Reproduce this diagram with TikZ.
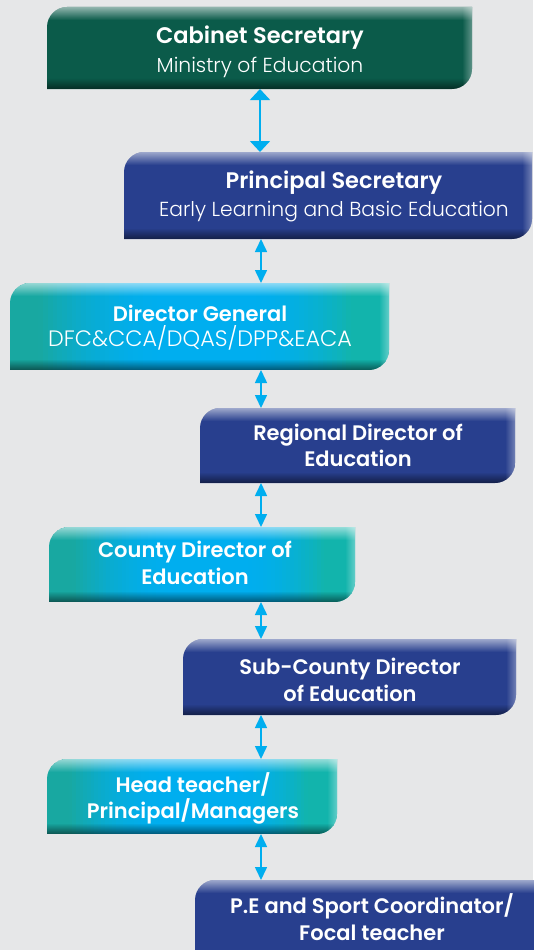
\documentclass[tikz,border=0pt]{standalone}
\usepackage{fontspec}
\setmainfont{Poppins}
\IfFontExistsTF{Poppins Light}{\newfontfamily\lightf{Poppins Light}}{\newfontfamily\lightf{Poppins}}
\IfFontExistsTF{Poppins SemiBold}{\newfontfamily\semif{Poppins SemiBold}}{\newfontfamily\semif{Poppins}[UprightFont=*-Bold]}
\usetikzlibrary{arrows.meta,fadings}
\definecolor{bgc}{HTML}{E6E7E8}
\definecolor{greenB}{HTML}{0B5B4A}
\definecolor{blueB}{HTML}{283F8E}
\definecolor{tealL}{HTML}{18A8A1}
\definecolor{tealM}{HTML}{00AEEF}
\definecolor{tealR}{HTML}{12B4AC}
\definecolor{cyanA}{HTML}{00AEEF}
\pgfdeclarelayer{bgl}
\pgfsetlayers{bgl,main}
\tikzset{
  frame/.style={rectangle, inner sep=0pt, outer sep=0pt},
  tb/.style={text=white, font=\semif\fontsize{21}{24}\selectfont, inner sep=0pt, anchor=base},
  tbl/.style={text=white, font=\semif\fontsize{22.5}{24}\selectfont, inner sep=0pt, anchor=base},
  tr/.style={text=white, font=\lightf\fontsize{20.3}{22}\selectfont, inner sep=0pt, anchor=base},
  arr/.style={draw=cyanA, line width=1.6pt, {Triangle[width=12pt,length=13pt]}-{Triangle[width=12pt,length=13pt]}},
  arrbig/.style={draw=cyanA, line width=1.6pt, {Triangle[width=20pt,length=11pt]}-{Triangle[width=20pt,length=11pt]}}
}
\newcommand\boxpath[4]{(#1,#4) -- (#1,#2+20) .. controls (#1,#2+9) and (#1+9,#2) .. (#1+20,#2) -- (#3,#2) -- (#3,#4-20) .. controls (#3,#4-9) and (#3-9,#4) .. (#3-20,#4) -- cycle}
\newcommand\fillgreen[4]{\fill[greenB] \boxpath{#1}{#2}{#3}{#4};}
\newcommand\fillblue[4]{\fill[blueB] \boxpath{#1}{#2}{#3}{#4};}
\newcommand\fillteal[4]{%
  \begin{scope}
    \clip \boxpath{#1}{#2}{#3}{#4};
    \pgfmathsetmacro\stw{(#3-#1)/80}%
    \foreach \i in {0,...,79}{%
      \pgfmathsetmacro\t{(\i+0.5)/80}%
      \pgfmathsetmacro\ql{max(0,min(1,(0.42-\t)/0.34))}%
      \pgfmathsetmacro\qr{max(0,min(1,(\t-0.62)/0.28))}%
      \pgfmathtruncatemacro\pl{100*\ql*\ql}%
      \pgfmathtruncatemacro\pr{100*\qr*\qr}%
      \pgfmathtruncatemacro\side{\t<0.52}%
      \ifnum\side=1 \def\stripc{tealL!\pl!tealM}\else\def\stripc{tealR!\pr!tealM}\fi
      \pgfmathsetmacro\xa{#1+\stw*\i}%
      \pgfmathsetmacro\xb{#1+\stw*(\i+1.3)}%
      \fill[\stripc] (\xa,#2) rectangle (\xb,#4);
    }
  \end{scope}}
\newcommand\orgbox[6]{%
  \begin{pgfonlayer}{bgl}
    \csname fill#6\endcsname{#2}{#3}{#4}{#5}
    \begin{scope}
      \clip \boxpath{#2}{#3}{#4}{#5};
      \fill[white, fill opacity=0.55, path fading=south] (#2,#3) rectangle (#4,#3+13);
      \fill[black, fill opacity=0.5, path fading=north] (#2,#5-11) rectangle (#4,#5);
      \fill[white, fill opacity=0.35, path fading=west] (#4-10,#3) rectangle (#4,#5);
    \end{scope}
  \end{pgfonlayer}
  \node[frame, minimum width={(#4-#2)*1pt}, minimum height={(#5-#3)*1pt}] (#1) at ({(#2+#4)/2},{(#3+#5)/2}) {};
}
\begin{document}
\begin{tikzpicture}[x=1pt,y=-1pt]
\useasboundingbox (0,0) rectangle (533,950);
\begin{pgfonlayer}{bgl}
  \fill[bgc] (0,0) rectangle (533,950);
\end{pgfonlayer}
\clip (0,0) rectangle (533,950);
\coordinate (ax) at (261,0);
\coordinate (ax1) at (260,0);

\orgbox{b1}{47}{7}{472}{89}{green}
\orgbox{b2}{124}{152}{532}{239}{blue}
\orgbox{b3}{10}{283}{389}{370}{teal}
\orgbox{b4}{200}{408}{515}{483}{blue}
\orgbox{b5}{49}{527}{355}{602}{teal}
\orgbox{b6}{183}{639}{516}{715}{blue}
\orgbox{b7}{47}{759}{337}{834}{teal}
\orgbox{b8}{195}{880}{560}{965}{blue}

\node[tbl] (t1a) at (260,44) {Cabinet Secretary};
\node[tr] (t1b) at (260,72) {Ministry of Education};
\node[tbl] (t2a) at (334,188) {Principal Secretary};
\node[tr] (t2b) at (334,216) {Early Learning and Basic Education};
\node[tb] (t3a) at (200,321) {Director General};
\node[tr, font=\lightf\fontsize{22.3}{24}\selectfont] (t3b) at (200,346) {DFC\&CCA/DQAS/DPP\&EACA};
\node[tb] (t4a) at (358,440) {Regional Director of};
\node[tb] (t4b) at (358,466) {Education};
\node[tb] (t5a) at (195,557) {County Director of};
\node[tb] (t5b) at (195,584) {Education};
\node[tb] (t6a) at (350,674) {Sub-County Director};
\node[tb] (t6b) at (350,701) {of Education};
\node[tb] (t7a) at (193,792) {Head teacher/};
\node[tb] (t7b) at (193,818) {Principal/Managers};
\node[tb] (t8a) at (372,913) {P.E and Sport Coordinator/};
\node[tb] (t8b) at (372,940) {Focal teacher};

\draw[arrbig] (b1.south -| ax1) -- (b2.north -| ax1);
\draw[arr] (b2.south -| ax) -- (b3.north -| ax);
\draw[arr] (b3.south -| ax) -- (b4.north -| ax);
\draw[arr] (b4.south -| ax) -- (b5.north -| ax);
\draw[arr] (b5.south -| ax) -- (b6.north -| ax);
\draw[arr] (b6.south -| ax) -- (b7.north -| ax);
\draw[arr] (b7.south -| ax) -- (b8.north -| ax);
\end{tikzpicture}
\end{document}
